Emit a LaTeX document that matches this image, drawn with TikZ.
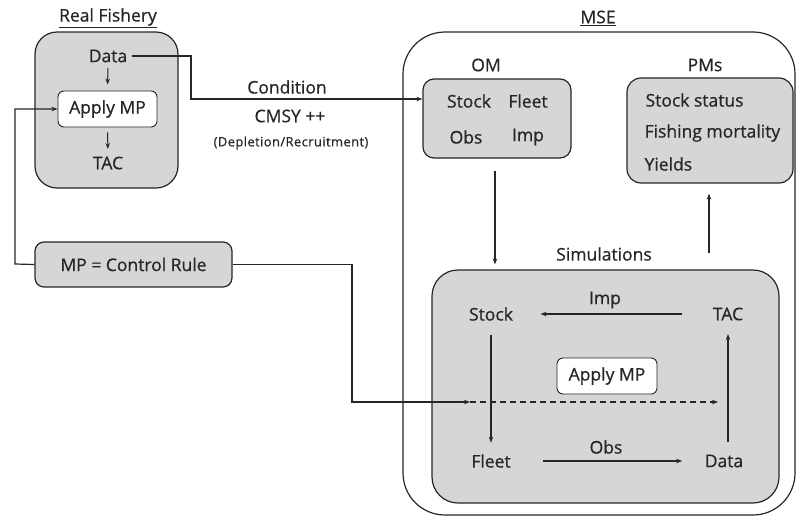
\documentclass[tikz,border=0pt]{standalone}
\usepackage{fontspec}
\setmainfont{Open Sans}[FakeBold=0.6]
\newfontfamily\smallfont{Open Sans}[LetterSpace=3, FakeBold=0.4]
\usetikzlibrary{arrows.meta}
\definecolor{boxgray}{HTML}{D6D6D6}
\definecolor{ink}{HTML}{262626}
\begin{document}
\begin{tikzpicture}[x=1pt,y=-1pt,
  line width=1.2pt, draw=ink,
  every node/.style={text=ink, font=\fontsize{17.5}{20}\selectfont},
  txt/.style={inner sep=0pt, anchor=center},
  graybox/.style={draw=ink, fill=boxgray, rounded corners=#1, line width=1.2pt},
  whitebox/.style={draw=ink, fill=white, rounded corners=6pt, line width=0.9pt, inner sep=0pt},
  arr/.style={-{Stealth[length=6pt,width=4.5pt]}, draw=ink, line width=1.2pt},
  title/.style={inner sep=0pt, font=\fontsize{17.5}{20}\selectfont},
  small/.style={inner sep=0pt, font=\smallfont\fontsize{13}{15}\selectfont}
]
\useasboundingbox (0,0) rectangle (800,520);

% ---------- Real Fishery ----------
\node[title] (rftitle) at (108,18) {\underline{Real Fishery}};
\node[graybox=22pt, minimum width=143pt, minimum height=156pt] (rf) at (106.5,110) {};
\node[txt] (rfdata) at (108,56) {Data};
\node[whitebox, minimum width=99pt, minimum height=36pt] (apply1) at (107.5,109) {Apply MP};
\node[txt] (rftac) at (108,163) {TAC};
\draw[arr, line width=1pt, shorten <=5pt, shorten >=6pt] (rfdata.south) -- (apply1.north);
\draw[arr, line width=1pt, shorten <=5pt, shorten >=7pt] (apply1.south) -- (rftac.north);

% ---------- MP box ----------
\node[graybox=9pt, minimum width=197pt, minimum height=45pt] (mp) at (133.5,264.5) {MP = Control Rule};

% ---------- MSE ----------
\node[title] (msetitle) at (598,18) {\underline{MSE}};
\node[draw=ink, line width=1.2pt, rounded corners=42pt, minimum width=392pt, minimum height=483pt] (mse) at (599,273.5) {};

\node[txt] (omlabel) at (486,65) {OM};
\node[graybox=11pt, minimum width=148pt, minimum height=79pt] (om) at (497,118.5) {};
\node[txt] (omstock) at (469,101) {Stock};
\node[txt] (omfleet) at (528,101) {Fleet};
\node[txt] (omobs) at (466,137) {Obs};
\node[txt] (omimp) at (528,137) {Imp};

\node[txt] (pmlabel) at (705,65) {PMs};
\node[graybox=14pt, minimum width=166pt, minimum height=105pt] (pms) at (710,130.5) {};
\node[txt, anchor=west] (pm1) at (645,100) {Stock status};
\node[txt, anchor=west] (pm2) at (644,133) {Fishing mortality};
\node[txt, anchor=west] (pm3) at (644,164) {Yields};

\node[txt] (simlabel) at (604,254) {Simulations};
\node[graybox=26pt, minimum width=347pt, minimum height=233pt] (sim) at (605.5,386.5) {};
\node[txt] (sstock) at (491,314) {Stock};
\node[txt] (stac) at (728,314) {TAC};
\node[txt] (sfleet) at (491,461) {Fleet};
\node[txt] (sdata) at (724,461) {Data};
\node[whitebox, minimum width=100pt, minimum height=36pt] (apply2) at (607,376) {Apply MP};
\node[txt] (implabel) at (605,300) {Imp};
\node[txt] (obslabel) at (606,447) {Obs};

% ---------- Condition labels ----------
\node[txt] (cond) at (287,87) {Condition};
\node[txt] (cmsy) at (290,116) {CMSY ++};
\node[small] (depl) at (291,143) {(Depletion/Recruitment)};

% ---------- connectors ----------
\coordinate (cbend) at (191,99);
\draw[arr, shorten <=4pt] (rfdata.east) -| (cbend) -- (om.west |- cbend);

\coordinate (lbend) at (15,264);
\draw[arr] (mp.west) -- (lbend) |- (apply1.west);

\coordinate (rbend) at (352,402);
\coordinate (d1) at (470,402);
\coordinate (d2) at (718,402);
\draw[arr] (mp.east) -| (rbend) -- (d1);
\draw[arr, dash pattern=on 6pt off 4pt] (d1) -- (d2);

\draw[arr, shorten <=12pt, shorten >=5pt] (om.south -| 495,0) -- (sim.north -| 495,0);
\coordinate (upstart) at (709,253);
\draw[arr, shorten >=10pt] (upstart) -- (pms.south -| upstart);

\draw[arr, shorten <=30pt, shorten >=27pt] (stac.west) -- (sstock.east);
\draw[arr, shorten <=14pt, shorten >=11pt] (sstock.south) -- (sfleet.north);
\draw[arr, shorten <=32pt, shorten >=22pt] (sfleet.east) -- (sdata.west);
\draw[arr, shorten <=12pt, shorten >=13pt] (sdata.north -| stac.south) -- (stac.south);
\end{tikzpicture}
\end{document}
